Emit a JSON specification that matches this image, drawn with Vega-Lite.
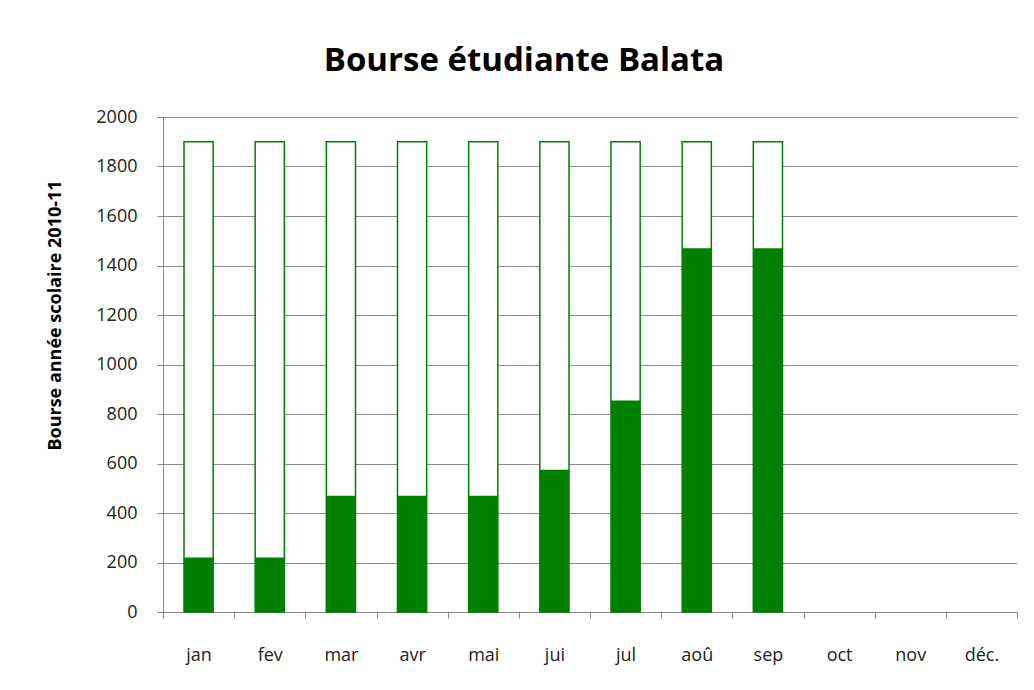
{
  "$schema": "https://vega.github.io/schema/vega-lite/v6.json",
  "width": 854,
  "height": 495,
  "autosize": {"type": "none"},
  "padding": {"left": 163, "top": 117, "right": 17, "bottom": 78},
  "background": "white",
  "title": {
    "text": "Bourse étudiante Balata",
    "font": "Open Sans",
    "fontSize": 33,
    "fontWeight": "bold",
    "color": "#000000",
    "anchor": "middle",
    "dx": -66,
    "offset": 30
  },
  "data": {
    "values": [
      {"mois": "jan", "objectif": 1900, "montant": 220},
      {"mois": "fev", "objectif": 1900, "montant": 220},
      {"mois": "mar", "objectif": 1900, "montant": 470},
      {"mois": "avr", "objectif": 1900, "montant": 470},
      {"mois": "mai", "objectif": 1900, "montant": 470},
      {"mois": "jui", "objectif": 1900, "montant": 575},
      {"mois": "jul", "objectif": 1900, "montant": 855},
      {"mois": "aoû", "objectif": 1900, "montant": 1470},
      {"mois": "sep", "objectif": 1900, "montant": 1470}
    ]
  },
  "encoding": {
    "x": {
      "field": "mois",
      "type": "nominal",
      "sort": null,
      "title": null,
      "scale": {
        "domain": ["jan", "fev", "mar", "avr", "mai", "jui", "jul", "aoû", "sep", "oct", "nov", "déc."],
        "paddingInner": 0,
        "paddingOuter": 0
      },
      "axis": {
        "labelAngle": 0,
        "labelFont": "Open Sans",
        "labelFontSize": 18,
        "labelColor": "#222222",
        "labelBaseline": "top",
        "labelPadding": 28,
        "tickBand": "extent",
        "tickSize": 6,
        "tickColor": "#868686",
        "domain": true,
        "domainColor": "#868686",
        "grid": false
      }
    }
  },
  "layer": [
    {
      "mark": {"type": "bar", "fill": "white", "stroke": "#008000", "strokeWidth": 1.5, "width": {"band": 0.41}},
      "encoding": {
        "y": {
          "field": "objectif",
          "type": "quantitative",
          "scale": {"domain": [0, 2000]},
          "title": "Bourse année scolaire  2010-11",
          "axis": {
            "values": [0, 200, 400, 600, 800, 1000, 1200, 1400, 1600, 1800, 2000],
            "format": "d",
            "labelFont": "Open Sans",
            "labelFontSize": 18,
            "labelColor": "#222222",
            "labelPadding": 20,
            "ticks": true,
            "tickSize": 6,
            "tickColor": "#868686",
            "domain": true,
            "domainColor": "#868686",
            "domainWidth": 1,
            "gridColor": "#8c8c8c",
            "gridWidth": 1,
            "titleFont": "Open Sans",
            "titleFontSize": 18,
            "titleFontWeight": "bold",
            "titleColor": "#000000",
            "titleX": -108,
            "titleY": 198,
            "titleBaseline": "middle"
          }
        }
      }
    },
    {
      "mark": {"type": "bar", "color": "#008000", "width": {"band": 0.41}},
      "encoding": {
        "y": {"field": "montant", "type": "quantitative"}
      }
    }
  ],
  "config": {
    "view": {"stroke": null}
  }
}
